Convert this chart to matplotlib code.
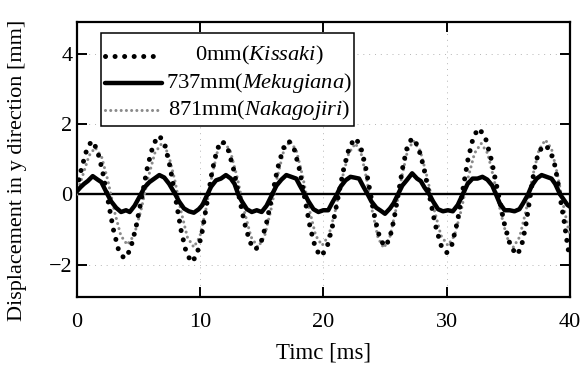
import matplotlib
matplotlib.use("Agg")
import matplotlib.pyplot as plt
from matplotlib.patches import Rectangle

plt.rcParams['font.family'] = ['Liberation Serif', 'DejaVu Serif']
plt.rcParams['mathtext.fontset'] = 'custom'
plt.rcParams['mathtext.rm'] = 'Liberation Serif'
plt.rcParams['mathtext.it'] = 'Liberation Serif:italic'

# ---- data ----
kissaki_t = [0.0, 0.4, 0.8, 1.2, 1.64, 2.08, 2.53, 2.97, 3.41, 3.85,
             4.33, 4.80, 5.28, 5.75, 6.23, 6.7,
             7.14, 7.58, 8.03, 8.47, 8.91, 9.35,
             9.76, 10.17, 10.58, 10.98, 11.39, 11.8,
             12.25, 12.7, 13.15, 13.6, 14.05, 14.5,
             14.95, 15.4, 15.85, 16.3, 16.75, 17.2,
             17.63, 18.07, 18.5, 18.93, 19.37, 19.8,
             20.27, 20.73, 21.2, 21.67, 22.13, 22.6,
             23.0, 23.4, 23.8, 24.2, 24.6, 25.0,
             25.37, 25.73, 26.1, 26.47, 26.83, 27.2,
             27.67, 28.13, 28.6, 29.07, 29.53, 30.0,
             30.43, 30.87, 31.3, 31.73, 32.17, 32.6,
             33.12, 33.63, 34.15, 34.67, 35.18, 35.7,
             36.05, 36.4, 36.75, 37.1, 37.45, 37.9,
             38.3, 38.7, 39.0, 39.3, 39.5, 39.7, 39.85, 40.0]
kissaki_v = [0.15, 0.75, 1.25, 1.52, 1.30, 0.69, -0.15, -0.99, -1.60, -1.82,
             -1.59, -0.95, -0.08, 0.80, 1.44, 1.67,
             1.43, 0.77, -0.13, -1.03, -1.69, -1.93,
             -1.70, -1.07, -0.21, 0.66, 1.29, 1.52,
             1.31, 0.75, -0.03, -0.80, -1.36, -1.57,
             -1.36, -0.80, -0.03, 0.75, 1.31, 1.52,
             1.30, 0.70, -0.12, -0.94, -1.54, -1.76,
             -1.54, -0.92, -0.08, 0.76, 1.37, 1.60,
             1.39, 0.83, 0.06, -0.71, -1.27, -1.48,
             -1.27, -0.71, 0.06, 0.83, 1.39, 1.60,
             1.38, 0.79, -0.03, -0.85, -1.44, -1.66,
             -1.42, -0.78, 0.11, 1.00, 1.64, 1.88,
             1.64, 0.98, 0.08, -0.82, -1.48, -1.72,
             -1.50, -0.92, -0.11, 0.70, 1.20, 1.40,
             1.30, 0.95, 0.40, -0.30, -0.70, -1.20, -1.55, -1.80]

mekugiana_t = [0.0, 0.3, 0.6, 0.9, 1.3, 1.7, 2.0, 2.5, 2.8, 3.2, 3.6, 4.0, 4.3, 4.7,
               5.2, 5.5, 5.9, 6.3, 6.7, 7.1, 7.5, 8.0, 8.3, 8.7, 9.1, 9.5, 9.9, 10.2,
               10.6, 10.9, 11.3, 11.7, 12.1, 12.5, 12.8, 13.1, 13.4, 13.8, 14.2, 14.6,
               15.0, 15.4, 15.85, 16.2, 16.6, 17.0, 17.4, 17.8, 18.1, 18.5, 18.8, 19.2,
               19.6, 20.0, 20.4, 20.7, 21.1, 21.4, 21.8, 22.2, 22.5, 22.9, 23.2, 23.6,
               23.9, 24.3, 24.6, 25.0, 25.4, 25.7, 26.05, 26.4, 26.8, 27.2, 27.6, 27.9,
               28.2, 28.6, 28.9, 29.3, 29.7, 30.1, 30.5, 30.9, 31.3, 31.7, 32.1, 32.5,
               32.9, 33.3, 33.7, 34.0, 34.3, 34.7, 35.1, 35.5, 35.9, 36.2, 36.6, 36.9,
               37.3, 37.7, 38.1, 38.5, 38.8, 39.2, 39.5, 39.8, 40.0]
mekugiana_v = [0.08, 0.20, 0.30, 0.38, 0.52, 0.42, 0.35, 0.0, -0.20, -0.38, -0.50, -0.45, -0.50, -0.32,
               0.0, 0.20, 0.35, 0.45, 0.55, 0.48, 0.30, 0.0, -0.20, -0.40, -0.48, -0.52, -0.42, -0.30,
               0.0, 0.22, 0.40, 0.45, 0.55, 0.45, 0.30, 0.0, -0.20, -0.42, -0.50, -0.45,
               -0.50, -0.32, 0.0, 0.25, 0.42, 0.55, 0.50, 0.45, 0.25, 0.0, -0.20, -0.42,
               -0.50, -0.45, -0.45, -0.25, 0.0, 0.22, 0.40, 0.50, 0.48, 0.45, 0.25, 0.0,
               -0.20, -0.38, -0.45, -0.55, -0.40, -0.25, 0.0, 0.25, 0.42, 0.60, 0.45, 0.38,
               0.20, 0.0, -0.20, -0.42, -0.48, -0.45, -0.48, -0.30, 0.0, 0.30, 0.45, 0.45,
               0.50, 0.42, 0.25, 0.0, -0.25, -0.45, -0.45, -0.48, -0.42, -0.25, 0.0, 0.25,
               0.45, 0.55, 0.50, 0.45, 0.30, 0.0, -0.15, -0.30, -0.35]

nakagojiri_t = [0.0, 0.5, 1.0, 1.5, 2.02, 2.54, 3.06, 3.58, 4.1,
                4.66, 5.22, 5.78, 6.34, 6.9, 7.42, 7.94, 8.46, 8.98, 9.5,
                9.98, 10.46, 10.94, 11.42, 11.9, 12.46, 13.02, 13.58, 14.14, 14.7,
                15.22, 15.74, 16.26, 16.78, 17.3, 17.82, 18.34, 18.86, 19.38, 19.9,
                20.44, 20.98, 21.52, 22.06, 22.6, 23.06, 23.52, 23.98, 24.44, 24.9,
                25.38, 25.86, 26.34, 26.82, 27.3, 27.86, 28.42, 28.98, 29.54, 30.1,
                30.64, 31.18, 31.72, 32.26, 32.8, 33.32, 33.84, 34.36, 34.88, 35.4,
                35.92, 36.44, 36.96, 37.48, 38.0, 38.5, 39.0, 39.4, 39.7, 40.0]
nakagojiri_v = [0.0, 0.55, 1.10, 1.33, 1.07, 0.38, -0.48, -1.17, -1.43,
                -1.16, -0.44, 0.45, 1.18, 1.45, 1.17, 0.43, -0.48, -1.22, -1.50,
                -1.21, -0.46, 0.48, 1.23, 1.52, 1.23, 0.48, -0.46, -1.21, -1.50,
                -1.21, -0.46, 0.48, 1.23, 1.52, 1.24, 0.49, -0.42, -1.17, -1.45,
                -1.17, -0.45, 0.45, 1.17, 1.45, 1.17, 0.42, -0.49, -1.24, -1.52,
                -1.23, -0.47, 0.47, 1.23, 1.52, 1.24, 0.49, -0.42, -1.17, -1.45,
                -1.17, -0.45, 0.45, 1.17, 1.45, 1.17, 0.43, -0.48, -1.22, -1.50,
                -1.21, -0.45, 0.50, 1.26, 1.55, 1.30, 0.55, -0.20, -0.70, -1.20]

labels = ['0mm($\\mathit{Kissaki}$)', '737mm($\\mathit{Mekugiana}$)', '871mm($\\mathit{Nakagojiri}$)']
x_ticks = [0, 10, 20, 30, 40]
y_ticks = [-2, 0, 2, 4]

# ---- figure ----
fig = plt.figure(figsize=(5.84, 3.72), dpi=100)
ax = fig.add_axes([0.1313, 0.2003, 0.976 - 0.1313, 0.9417 - 0.2003])

k_style = dict(color='black', lw=3.6, linestyle=(0, (0.01, 1.9)), dash_capstyle='round')
m_style = dict(color='black', lw=3.2, linestyle='-', solid_capstyle='round', solid_joinstyle='round')
n_style = dict(color='#8a8a8a', lw=2.2, linestyle=(0, (0.01, 1.7)), dash_capstyle='round')

ax.axhline(0, color='black', lw=1.7, zorder=2)
ax.plot(nakagojiri_t, nakagojiri_v, zorder=3, **n_style)
ax.plot(kissaki_t, kissaki_v, zorder=4, **k_style)
ax.plot(mekugiana_t, mekugiana_v, zorder=5, **m_style)

ax.set_xlim(0, 40)
ax.set_ylim(-2.93, 4.91)
ax.set_xticks(x_ticks)
ax.set_yticks(y_ticks)
ax.grid(True, color='#b5b5b5', lw=0.7, linestyle=(0, (1, 5)), zorder=1)

for s in ax.spines.values():
    s.set_linewidth(1.6)
ax.tick_params(direction='in', length=7.5, width=1.4, top=True, right=True,
               labelsize=16)
ax.tick_params(axis='x', pad=11)
ax.tick_params(axis='y', pad=3)

ax.set_xlabel('Timc [ms]', fontsize=16.5)
ax.xaxis.set_label_coords(0.5, -0.165)
ax.set_ylabel('Displacement in y direction [mm]', fontsize=16)
ax.yaxis.set_label_coords(-0.1, 0.462)

# ---- legend (manual, to get centred labels) ----
x0, x1, y0, y1 = 0.0487, 0.562, 0.622, 0.959
ax.add_patch(Rectangle((x0, y0), x1 - x0, y1 - y0, transform=ax.transAxes,
                       facecolor='white', edgecolor='black', lw=1.1, zorder=10))
rows = [0.877, 0.778, 0.681]
styles = [k_style, m_style, n_style]
for lab, yy, st in zip(labels, rows, styles):
    ax.plot([0.058, 0.172], [yy, yy], transform=ax.transAxes, zorder=11, **st)
    ax.text(0.370, yy, lab, transform=ax.transAxes, ha='center', va='center',
            fontsize=16.2, zorder=12)

fig.savefig('out.png', dpi=100)
